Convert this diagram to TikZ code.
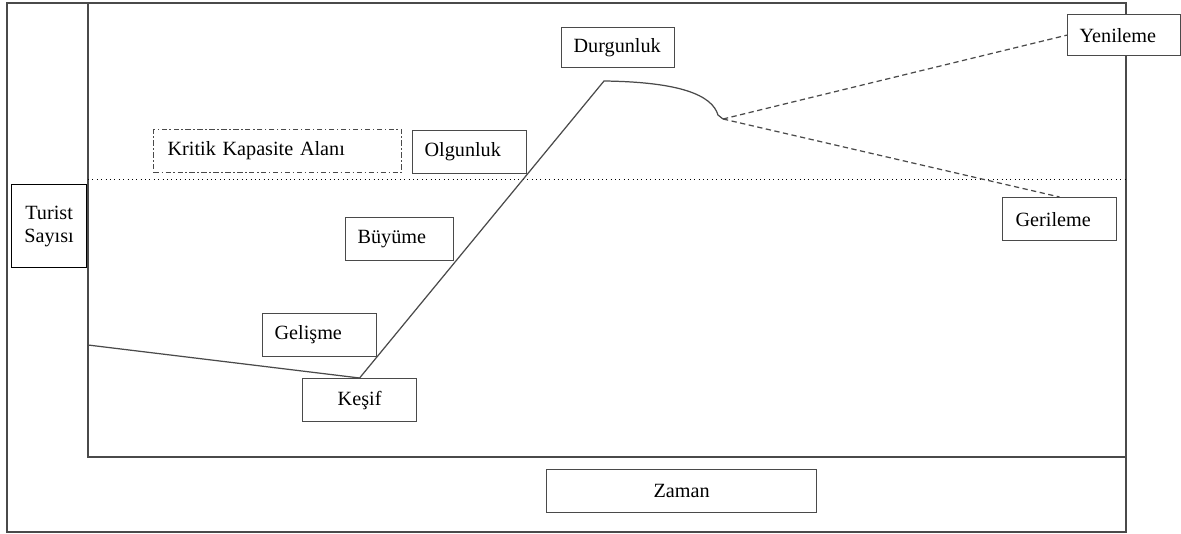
\documentclass[tikz,border=0pt]{standalone}
\usepackage{fontspec}
\setmainfont{Liberation Serif}
\usepackage{xcolor}
\definecolor{cizgi}{HTML}{4A4A4A}

\begin{document}
\begin{tikzpicture}[x=0.02cm, y=-0.02cm, font=\fontsize{11.5}{13}\selectfont,
    kutu/.style={draw=cizgi, line width=0.7pt, rectangle, anchor=north west, inner sep=0pt, fill=white, minimum height=0.86cm},
    sol/.style={text width=#1, align=left, inner xsep=0.24cm},
    kesik/.style={cizgi, line width=0.7pt, dash pattern=on 3pt off 2pt}]
    \useasboundingbox (0,0) rectangle (1181,534);
    \draw[cizgi, line width=1pt] (7,3) rectangle (1126,532);
    \draw[cizgi, line width=1pt] (88,3) rectangle (1126,457);
    \draw[line width=0.5pt, dotted] (88,179) -- (1126,179);

    \node[kutu, draw=black, minimum width=1.5cm, minimum height=1.66cm, align=center] (turist) at (11,184) {Turist\\Sayısı};
    \node[kutu, sol=4.4cm, inner xsep=0.28cm, dash pattern=on 3pt off 1.5pt on 0.8pt off 1.5pt] (kritik) at (153,129) {Kritik Kapasite Alanı};
    \node[kutu, sol=1.8cm] (olgunluk) at (412,130) {Olgunluk};
    \node[kutu, sol=1.78cm, minimum height=0.8cm] (durgunluk) at (561,27) {Durgunluk};
    \node[kutu, sol=1.78cm, minimum height=0.82cm] (yenileme) at (1067,14) {Yenileme};
    \node[kutu, sol=1.76cm, inner xsep=0.26cm] (gerileme) at (1002,197) {Gerileme};
    \node[kutu, sol=1.68cm] (buyume) at (345,217) {Büyüme};
    \node[kutu, sol=1.8cm] (gelisme) at (262,313) {Gelişme};
    \node[kutu, minimum width=2.28cm] (kesif) at (302,378) {Keşif};
    \node[kutu, minimum width=5.4cm] (zaman) at (546,469) {Zaman};

    \coordinate (bas) at (88,345);
    \coordinate (tepe) at (604,81);
    \coordinate (dip) at (723,119);
    \draw[cizgi, line width=0.7pt] (bas) -- (kesif.north) -- (tepe) .. controls (680,82) and (712,95) .. (718,115) -- (dip);
    \draw[kesik] (dip) -- (yenileme.west);
    \draw[kesik] (dip) -- (gerileme.north);
\end{tikzpicture}
\end{document}
